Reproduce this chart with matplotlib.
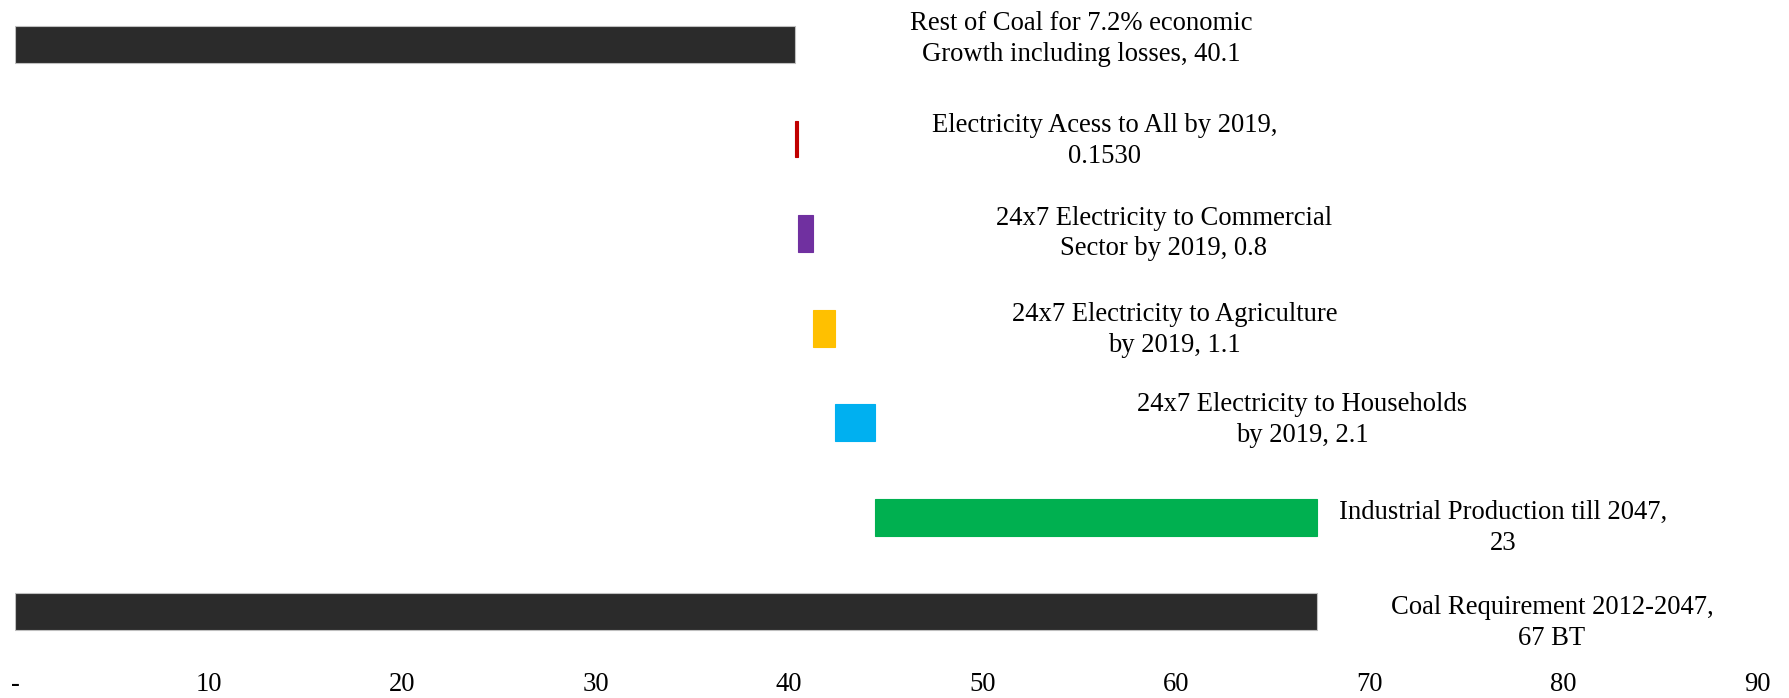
import matplotlib.pyplot as plt
import numpy as np

# waterfall of coal requirement, top to bottom
labels = ["Rest of Coal for 7.2% economic\nGrowth including losses, 40.1",
          "Electricity Acess to All by 2019,\n0.1530",
          "24x7 Electricity to Commercial\nSector by 2019, 0.8",
          "24x7 Electricity to Agriculture\nby 2019, 1.1",
          "24x7 Electricity to Households\nby 2019, 2.1",
          "Industrial Production till 2047,\n23",
          "Coal Requirement 2012-2047,\n67 BT"]
values = [40.3, 0.153, 0.8, 1.1, 2.1, 22.8, 67.25]
colors = ["#2B2B2B", "#C00000", "#7030A0", "#FFC000", "#00B0F0", "#00B050", "#2B2B2B"]
xticks = [0, 10, 20, 30, 40, 50, 60, 70, 80, 90]
xticklabels = ["-", "10", "20", "30", "40", "50", "60", "70", "80", "90"]

# bar starts: stacked pieces, total starts at zero
starts = list(np.cumsum([0] + values[:5]))
starts.append(0)

# label placement (centre x in data units, y shift)
label_x = [55.1, 56.3, 59.35, 59.9, 66.5, 76.9, 79.4]
label_dy = [-0.06, 0.02, 0.0, 0.02, -0.03, 0.11, 0.12]

plt.rcParams['font.family'] = ['Liberation Serif', 'DejaVu Serif']

fig = plt.figure(figsize=(17.89, 6.98), dpi=100)
ax = fig.add_axes([15 / 1789, 36 / 698, (1757 - 15) / 1789, 662 / 698])

y = np.arange(len(values))
for i in range(len(values)):
    ec = "#BFBFBF" if colors[i] == "#2B2B2B" else colors[i]
    ax.barh(y[i], values[i], left=starts[i], height=0.39, color=colors[i],
            edgecolor=ec, linewidth=0.8)
    ax.text(label_x[i], y[i] + label_dy[i], labels[i], ha="center", va="center",
            fontsize=19.2, linespacing=1.3, color="black")

ax.set_xlim(0, 90)
ax.set_ylim(6.53, -0.47)
ax.set_xticks(xticks)
ax.set_xticklabels(xticklabels, fontsize=19.2)
ax.set_yticks([])
ax.tick_params(axis="x", length=0, pad=7.5)
for s in ax.spines.values():
    s.set_visible(False)

fig.savefig("out.png", dpi=100)
